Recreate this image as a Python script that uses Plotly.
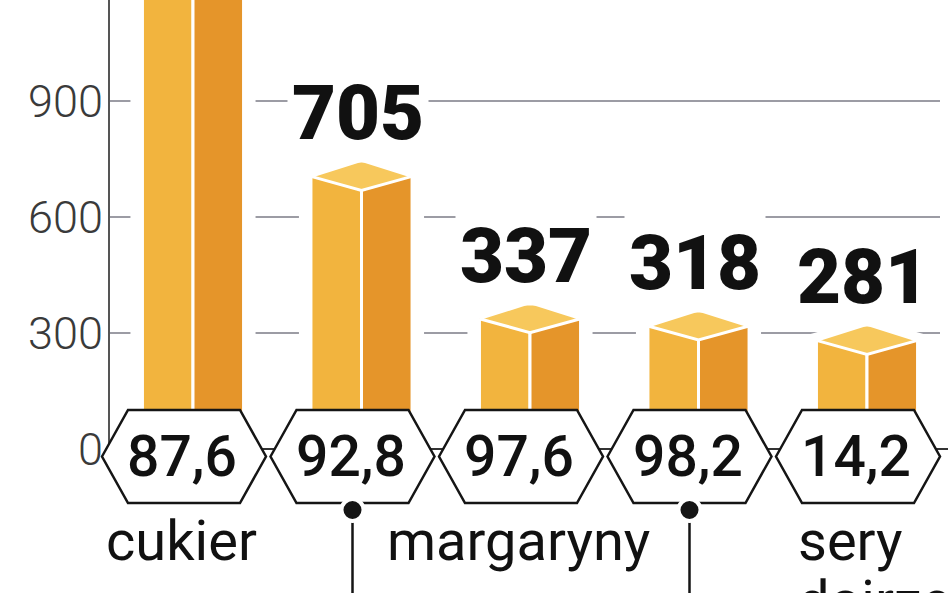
import plotly.graph_objects as go

# ---------------- data ----------------
categories = ["cukier", "", "margaryny", "", "sery dojrzewające"]
values = [1300, 705, 337, 318, 281]           # first bar goes beyond the visible top
value_labels = ["", "705", "337", "318", "281"]
hex_labels = ["87,6", "92,8", "97,6", "98,2", "14,2"]
pin_under = [False, True, False, True, False]
y_ticks = [0, 300, 600, 900, 1200]

# ---------------- geometry helpers ----------------
W, H = 948, 593
XPX = 168.5                  # px per category
YPX = 0.38667                # px per value unit
X0PX, Y0PX = 193, 449        # pixel of category 0 centre / value 0
xr = [-X0PX / XPX, (W - X0PX) / XPX]
yr = [-(H - Y0PX) / YPX, Y0PX / YPX]
dx = lambda p: p / XPX
dy = lambda p: p / YPX

LEFT = "#F2B43E"
RIGHT = "#E5952A"
TOP = "#F7C85C"
GRID = "#9C9CA4"
INK = "#151515"

xs = list(range(len(values)))
axis_x = xr[0] + 109 / XPX

fig = go.Figure()

shapes = []
# grid lines
for t in y_ticks[1:]:
    shapes.append(dict(type="line", xref="x", yref="y", x0=axis_x, x1=xr[1] - dx(8), y0=t, y1=t,
                       line=dict(color=GRID, width=2), layer="below"))
shapes.append(dict(type="line", xref="x", yref="y", x0=axis_x, x1=xr[1], y0=0, y1=0,
                   line=dict(color="#333333", width=2), layer="below"))
# axis line
shapes.append(dict(type="line", xref="x", yref="y", x0=axis_x, x1=axis_x, y0=0, y1=yr[1] + 50,
                   line=dict(color="#555555", width=2), layer="below"))
# white halos around bars (break grid lines)
for x, v in zip(xs, values):
    xl, xrr = x - 0.3 - dx(6), x + 0.3 + dx(6)
    path = (f"M{xl},0 L{xl},{v} L{x},{v + dy(16)} L{xrr},{v} L{xrr},0 Z")
    shapes.append(dict(type="path", xref="x", yref="y", path=path, fillcolor="white",
                       line=dict(color="white", width=12), layer="below"))

# bars: two faces
fig.add_trace(go.Bar(x=xs, y=values, width=0.3, offset=-0.3,
                     marker=dict(color=LEFT, line=dict(color="white", width=3)), hoverinfo="skip"))
fig.add_trace(go.Bar(x=xs, y=values, width=0.3, offset=0.0,
                     marker=dict(color=RIGHT, line=dict(color="white", width=3)), hoverinfo="skip"))
# top faces
for x, v in zip(xs, values):
    fig.add_trace(go.Scatter(x=[x - 0.3, x, x + 0.3, x, x - 0.3],
                             y=[v, v + dy(16), v, v - dy(14), v],
                             fill="toself", fillcolor=TOP, mode="lines",
                             line=dict(color="white", width=3), hoverinfo="skip"))

# hexagons
hx_off = dx(9)
for x in xs:
    c = x - hx_off
    ho, hi = dx(82), dx(56)
    yt, yb = dy(449 - 410), -dy(503 - 449)
    ym = (yt + yb) / 2
    path = (f"M{c - ho},{ym} L{c - hi},{yt} L{c + hi},{yt} L{c + ho},{ym} "
            f"L{c + hi},{yb} L{c - hi},{yb} Z")
    shapes.append(dict(type="path", xref="x", yref="y", path=path, fillcolor="white",
                       line=dict(color=INK, width=2.5), layer="above"))

# pins
for x, p in zip(xs, pin_under):
    if not p:
        continue
    c = x - hx_off
    yp = -dy(510 - 449)
    shapes.append(dict(type="line", xref="x", yref="y", x0=c, x1=c, y0=yp, y1=yr[0] - 50,
                       line=dict(color=INK, width=2.5), layer="above"))
    shapes.append(dict(type="circle", xref="x", yref="y", xsizemode="pixel", ysizemode="pixel",
                       xanchor=c, yanchor=yp, x0=-11, x1=11, y0=-11, y1=11,
                       fillcolor=INK, line=dict(color="white", width=4), layer="above"))

annotations = []
for x, v, lab in zip(xs, values, value_labels):
    if lab:
        annotations.append(dict(x=x - dx(4), y=v + dy(16) - dy(3), xref="x", yref="y", text=lab,
                                showarrow=False, yanchor="bottom", bgcolor="white", borderpad=4,
                                font=dict(family="Roboto", size=76, color="#111111", weight=900)))
for x, lab in zip(xs, hex_labels):
    annotations.append(dict(x=x - hx_off - dx(2), y=-dy(456 - 449), xref="x", yref="y", text=lab,
                            showarrow=False, yanchor="middle",
                            font=dict(family="Roboto", size=57, color="#111111", weight=500)))
for x, lab in zip(xs, categories):
    if not lab:
        continue
    words = lab.split(" ")
    if len(words) > 1:
        for k, wd in enumerate(words):
            annotations.append(dict(x=x - hx_off - dx(62), y=-dy(506 - 449 + 60 * k), xref="x", yref="y",
                                    text=wd, showarrow=False, yanchor="top", xanchor="left",
                                    font=dict(family="Roboto", size=56, color="#111111")))
    else:
        annotations.append(dict(x=x - hx_off - dx(3), y=-dy(506 - 449), xref="x", yref="y", text=lab,
                                showarrow=False, yanchor="top",
                                font=dict(family="Roboto", size=56, color="#111111")))

fig.update_layout(
    width=W, height=H, margin=dict(l=0, r=0, t=0, b=0),
    paper_bgcolor="white", plot_bgcolor="white",
    barmode="overlay", showlegend=False,
    shapes=shapes, annotations=annotations,
    xaxis=dict(range=xr, visible=False, fixedrange=True),
    yaxis=dict(range=yr, anchor="free", position=109 / W, fixedrange=True,
               tickvals=y_ticks, ticktext=[str(t) for t in y_ticks],
               showgrid=False, zeroline=False, showline=False, ticks="", ticklabelstandoff=6,
               tickfont=dict(family="Roboto", size=45, color="#3a3a3a", weight=300)),
)

fig.write_html("out.html", config={"displayModeBar": False},
               post_script="document.body.style.margin='0';")
